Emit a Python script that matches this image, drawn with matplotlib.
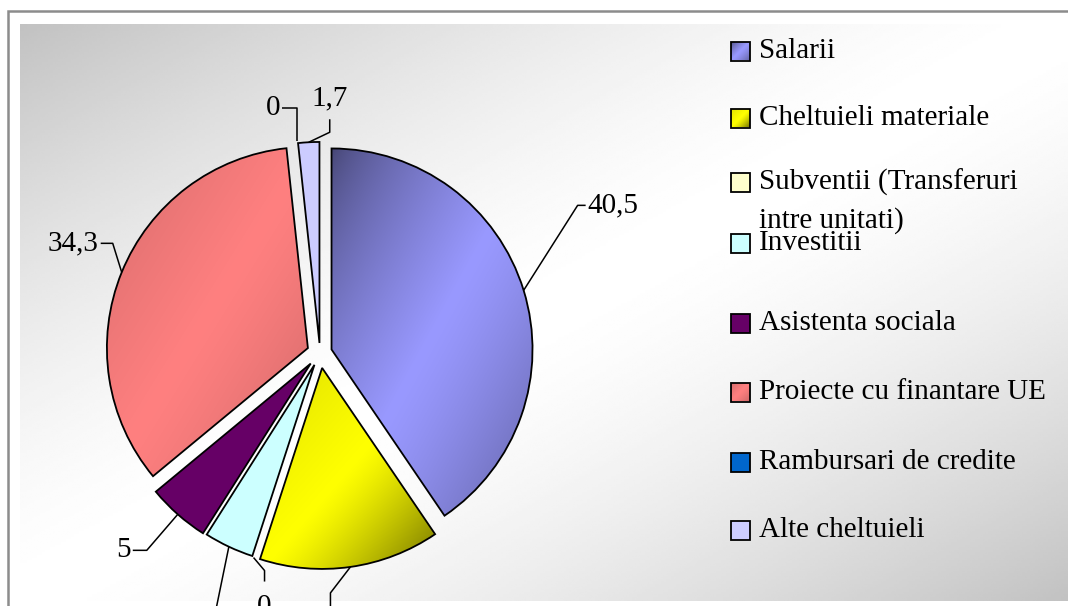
import numpy as np
import matplotlib.pyplot as plt
from matplotlib.patches import Rectangle
from matplotlib.colors import to_rgb

# data
categories = ["Salarii", "Cheltuieli materiale", "Subventii (Transferuri\nintre unitati)",
              "Investitii", "Asistenta sociala", "Proiecte cu finantare UE",
              "Rambursari de credite", "Alte cheltuieli"]
values = [40.5, 14.5, 0, 4.0, 5, 34.3, 0, 1.7]
colors = ["#9999FF", "#FFFF00", "#FFFFCC", "#CCFFFF", "#660066", "#FF8080", "#0066CC", "#CCCCFF"]
# explode as a fraction of the radius
explode = [0.06, 0.075, 0.07, 0.065, 0.07, 0.065, 0.06, 0.05]
# (dark factor at top-left, dark factor at bottom-right), None = flat fill
shading = [(0.45, 0.65), (0.85, 0.45), None, None, None, (0.8, 0.8), None, None]

# leader lines: knee and end offsets (px) from the wedge anchor, label alignment
leaders = [
    ((54, 85), (62, 85), "left", "center"),
    ((-20, -26), (-20, -75), "center", "top"),
    ((11, -13), (11, -24), "center", "top"),
    ((-16, -78), (-16, -90), "center", "top"),
    ((-31, -36), (-45, -36), "right", "center"),
    ((-9, 29), (-21, 29), "right", "center"),
    ((0, 33), (-15, 33), "right", "center"),
    ((21, 10), (21, 23), "center", "bottom"),
]
legend_y = [51, 118, 182, 243, 323, 392, 462, 530]

W, H = 1068, 606
R = 201
FONT = "Liberation Serif"
FS = 21

fig = plt.figure(figsize=(W / 100, H / 100), dpi=100)
ax = fig.add_axes([0, 0, 1, 1])
ax.set_xlim(0, W)
ax.set_ylim(0, H)
ax.set_autoscale_on(False)
ax.axis("off")


def shade_patch(patch, base, lo, hi, z):
    verts = ax.transData.inverted().transform(patch.get_verts())
    x0, y0 = verts.min(0)
    x1, y1 = verts.max(0)
    n = 120
    uu = np.linspace(0, 1, n)[None, :]
    vv = np.linspace(0, 1, n)[:, None]
    tt = (uu + vv) / 2
    s = np.where(tt < 0.5, lo + (1 - lo) * (tt / 0.5) ** 0.7,
                 1 - (1 - hi) * (np.clip(tt - 0.5, 0, None) / 0.5) ** 1.3)
    img = np.clip(np.array(to_rgb(base))[None, None, :] * s[:, :, None], 0, 1)
    im = ax.imshow(img, extent=(x0, x1, y0, y1), origin="upper", aspect="auto",
                   zorder=z, interpolation="bilinear")
    im.set_clip_path(patch)
    patch.set_facecolor("none")


# plot area background
u = np.linspace(0, 1, 400)[None, :]
v = np.linspace(0, 1, 220)[:, None]
t = (u + v) / 2
bg = 1 - 0.24 * np.abs(2 * t - 1) ** 1.5
ax.imshow(bg, cmap="gray", vmin=0, vmax=1, extent=(20, W, H - 601, H - 24),
          origin="upper", aspect="auto", zorder=0, interpolation="bilinear")
ax.add_patch(Rectangle((8, -20), 1100, H - 11 + 20, fill=False,
                       edgecolor="#8c8c8c", lw=1.8, zorder=0.5))

# pie explode works in data units, so scale by the radius
wedges, _ = ax.pie(values, explode=[e * R for e in explode], colors=colors, startangle=90,
                   counterclock=False, radius=R, center=(320, H - 353), frame=True,
                   wedgeprops=dict(edgecolor="black", linewidth=1.3, zorder=2))
ax.set_aspect("auto")
ax.set_xlim(0, W)
ax.set_ylim(0, H)

for w, val, col, sh in zip(wedges, values, colors, shading):
    if val == 0:
        w.set_visible(False)
    elif sh is not None:
        shade_patch(w, col, sh[0], sh[1], 1.5)

# value labels with leader lines
for w, val, (knee, end, ha, va) in zip(wedges, values, leaders):
    mid = np.deg2rad((w.theta1 + w.theta2) / 2)
    cx, cy = w.center
    ax0, ay0 = cx + w.r * np.cos(mid), cy + w.r * np.sin(mid)
    xs = [ax0, ax0 + knee[0], ax0 + end[0]]
    ys = [ay0, ay0 + knee[1], ay0 + end[1]]
    ax.plot(xs, ys, color="black", lw=1.1, zorder=3, solid_capstyle="butt")
    tx, ty = xs[-1], ys[-1]
    if ha == "left":
        tx += 2
    elif ha == "right":
        tx -= 2
    elif va == "top":
        ty -= 12
    elif va == "bottom":
        ty += 8
    if ty < -5:
        continue  # label lies below the cropped picture
    label = f"{val:g}".replace(".", ",")
    ax.text(tx, ty, label, ha=ha, va=va, fontsize=FS, family=FONT, zorder=4)

# legend
for name, col, sh, ly in zip(categories, colors, shading, legend_y):
    sq = Rectangle((731, H - ly - 9.5), 19, 19, facecolor=col, edgecolor="black",
                   lw=1.3, zorder=3)
    ax.add_patch(sq)
    if sh is not None:
        shade_patch(sq, col, sh[0], sh[1], 2.5)
    for k, line in enumerate(name.split("\n")):
        ax.text(759, H - ly - 39 * k, line, ha="left", va="center", fontsize=FS,
                family=FONT, zorder=4)

fig.savefig("out.png", dpi=100, facecolor="white")
